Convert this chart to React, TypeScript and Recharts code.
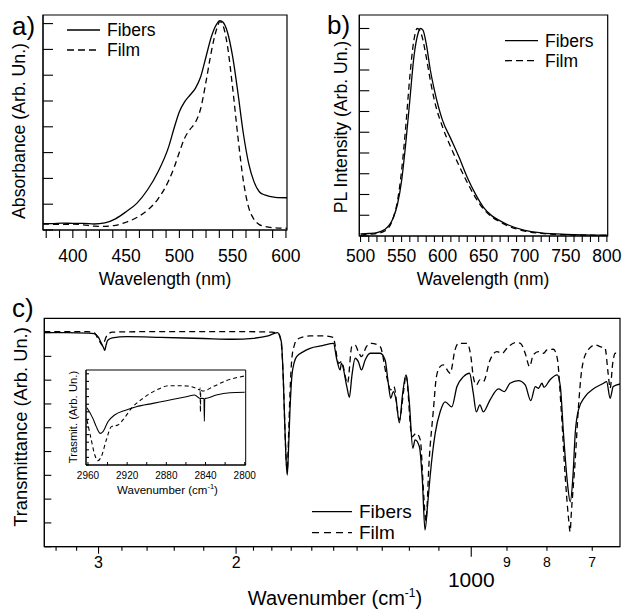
import React from 'react';
import { LineChart, Line, XAxis, YAxis, ReferenceArea } from 'recharts';

const FONT = '"Liberation Sans", Arial, Helvetica, sans-serif';

// a) absorbance
const absWl = [372, 380, 390, 400, 410, 420, 430, 440, 450, 460, 470, 480, 490, 495, 500, 505, 510, 515, 520, 525, 530, 535, 538, 541, 545, 550, 555, 560, 565, 570, 575, 580, 590, 601];
const absFibers = [0.030, 0.030, 0.032, 0.031, 0.031, 0.028, 0.033, 0.052, 0.085, 0.124, 0.186, 0.271, 0.388, 0.473, 0.550, 0.597, 0.628, 0.659, 0.713, 0.806, 0.899, 0.958, 0.974, 0.966, 0.922, 0.806, 0.636, 0.450, 0.310, 0.225, 0.178, 0.163, 0.152, 0.150];
const absFilm = [0.028, 0.027, 0.026, 0.027, 0.024, 0.018, 0.017, 0.022, 0.036, 0.058, 0.092, 0.145, 0.230, 0.290, 0.362, 0.428, 0.468, 0.500, 0.565, 0.690, 0.830, 0.935, 0.969, 0.950, 0.860, 0.660, 0.430, 0.230, 0.105, 0.050, 0.025, 0.017, 0.010, 0.008];
const absXTicks = [375, 387.5, 400, 412.5, 425, 437.5, 450, 462.5, 475, 487.5, 500, 512.5, 525, 537.5, 550, 562.5, 575, 587.5, 600];
const absYTicks = [0, 0.12, 0.24, 0.36, 0.48, 0.6, 0.72, 0.84, 0.96];

// b) photoluminescence
const plFibersWl = [500, 510, 520, 530, 540, 545, 550, 555, 560, 565, 570, 573, 576, 580, 585, 590, 600, 610, 620, 630, 640, 650, 660, 670, 680, 700, 720, 750, 801];
const plFibers = [0.010, 0.012, 0.016, 0.032, 0.089, 0.153, 0.266, 0.444, 0.653, 0.863, 0.976, 1.0, 0.992, 0.927, 0.800, 0.702, 0.556, 0.468, 0.379, 0.282, 0.202, 0.137, 0.097, 0.073, 0.053, 0.027, 0.015, 0.008, 0.004];
const plFilmWl = [500, 510, 520, 530, 540, 545, 550, 555, 560, 565, 569, 572, 575, 580, 585, 590, 600, 610, 620, 630, 640, 650, 660, 670, 680, 700, 720, 750, 801];
const plFilm = [0.004, 0.008, 0.012, 0.025, 0.089, 0.169, 0.315, 0.524, 0.766, 0.944, 1.0, 0.992, 0.960, 0.863, 0.750, 0.653, 0.524, 0.427, 0.339, 0.258, 0.185, 0.129, 0.092, 0.068, 0.048, 0.024, 0.013, 0.006, 0.003];
const plXTicks = [500, 510, 520, 530, 540, 550, 560, 570, 580, 590, 600, 610, 620, 630, 640, 650, 660, 670, 680, 690, 700, 710, 720, 730, 740, 750, 760, 770, 780, 790, 800];
const plYTicks = [0, 0.1, 0.2, 0.3, 0.4, 0.5, 0.6, 0.7, 0.8, 0.9, 1.0];

// c) FTIR transmittance
const irFibersWn = [3520, 3300, 3100, 3040, 3000, 2975, 2955, 2945, 2935, 2920, 2880, 2760, 2500, 2200, 2020, 1900, 1820, 1770, 1750, 1740, 1732, 1725, 1720, 1714, 1706, 1697, 1685, 1673, 1640, 1608, 1550, 1501, 1486, 1472, 1466, 1443, 1432, 1422, 1408, 1395, 1382, 1367, 1347, 1308, 1289, 1277, 1268, 1258, 1248, 1236, 1224, 1212, 1200, 1188, 1180, 1165, 1155, 1146, 1137, 1129, 1112, 1096, 1080, 1059, 1043, 1023, 1005, 994, 985, 975, 965, 946, 923, 907, 892, 870, 853, 839, 828, 820, 812, 807, 793, 776, 769, 762, 753, 747, 741, 736, 729, 715, 698, 677, 671, 664, 658, 645];
const irFibersT = [90.0, 90.0, 89.8, 89.6, 88.0, 85.5, 83.5, 82.5, 84.5, 86.8, 87.8, 88.3, 88.0, 87.5, 87.2, 87.6, 88.6, 90.0, 86.0, 70.0, 50.0, 35.0, 30.1, 40.0, 58.0, 71.5, 77.5, 79.9, 82.0, 83.4, 84.5, 85.5, 78.5, 74.3, 77.1, 67.3, 62.8, 71.5, 79.2, 77.8, 74.3, 78.5, 81.3, 81.3, 78.5, 68.7, 62.4, 65.2, 61.7, 52.1, 64.5, 72.2, 60.3, 41.4, 44.9, 42.0, 28.0, 7.0, 18.0, 29.4, 47.7, 56.7, 60.9, 58.8, 67.3, 71.5, 72.9, 64.5, 56.7, 59.6, 56.7, 61.7, 66.3, 65.2, 68.7, 69.8, 68.0, 61.4, 67.3, 66.6, 68.7, 67.0, 70.1, 72.2, 67.3, 47.7, 26.6, 18.9, 29.4, 47.7, 57.5, 63.1, 66.3, 68.7, 69.4, 62.4, 67.3, 68.4];
const irFilmWn = [3520, 3100, 3040, 3000, 2980, 2965, 2950, 2935, 2910, 2880, 2500, 2000, 1800, 1765, 1750, 1740, 1732, 1725, 1720, 1714, 1706, 1697, 1685, 1673, 1640, 1608, 1550, 1501, 1495, 1479, 1466, 1440, 1422, 1408, 1395, 1382, 1362, 1342, 1308, 1283, 1268, 1256, 1236, 1220, 1212, 1191, 1176, 1162, 1150, 1143, 1132, 1118, 1108, 1096, 1086, 1064, 1049, 1038, 1013, 1001, 994, 985, 975, 965, 946, 927, 913, 900, 878, 865, 853, 842, 833, 820, 808, 800, 785, 776, 767, 758, 751, 747, 745, 736, 729, 722, 711, 694, 684, 674, 668, 664, 659, 654, 645];
const irFilmT = [90.4, 90.4, 90.0, 87.0, 85.5, 84.5, 86.0, 88.0, 89.6, 90.2, 90.4, 90.4, 90.2, 89.5, 85.0, 70.0, 50.0, 36.0, 32.0, 45.0, 65.0, 79.0, 84.5, 86.9, 88.2, 88.6, 88.6, 88.0, 85.5, 77.1, 77.8, 68.7, 84.1, 84.8, 82.0, 79.9, 84.1, 85.5, 84.1, 71.5, 65.9, 67.3, 53.3, 65.9, 72.2, 46.2, 47.7, 44.9, 21.0, 11.0, 36.4, 57.5, 71.5, 75.7, 76.4, 72.9, 82.7, 85.5, 85.5, 79.9, 71.5, 68.0, 70.1, 69.4, 78.5, 82.0, 81.3, 83.4, 85.8, 85.5, 81.3, 75.7, 80.6, 82.0, 81.3, 82.7, 83.0, 79.2, 57.5, 29.4, 12.6, 6.3, 12.6, 36.4, 58.8, 74.3, 82.0, 84.8, 84.1, 83.4, 72.9, 66.6, 77.1, 81.3, 80.6];
const irXTicks = [3400, 3200, 3000, 2800, 2600, 2400, 2200, 2000, 1900, 1800, 1700, 1600, 1500, 1400, 1300, 1200, 1100, 1000, 900, 800, 700];
const irTickLabels: Record<number, string> = { 3000: '3', 2000: '2', 1000: '1000', 900: '9', 800: '8', 700: '7' };
const irYTicks = [0, 10, 20, 30, 40, 50, 60, 70, 80, 90];

// c) inset, C-H stretching region
const insetFibersWn = [2961, 2955, 2951.5, 2947.4, 2944.7, 2939.6, 2932.8, 2920.9, 2910.6, 2893.6, 2880, 2859.6, 2851, 2846, 2841.6, 2841.2, 2840.8, 2839, 2829, 2815, 2800];
const insetFibersT = [6.03, 4.91, 4.04, 3.33, 3.51, 4.56, 5.26, 5.79, 6.14, 6.49, 6.77, 7.19, 7.37, 7.02, 7.0, 4.6, 7.0, 7.02, 7.37, 7.61, 7.65];
const insetFilmWn = [2961, 2956.6, 2953, 2949.8, 2946.4, 2941.3, 2936, 2929.4, 2924.3, 2915.7, 2903.8, 2890.2, 2876.6, 2859.6, 2849.4, 2845.8, 2845.5, 2845.2, 2844.9, 2842.6, 2832.3, 2818.7, 2800];
const insetFilmT = [4.74, 2.63, 1.05, 0.46, 0.88, 2.63, 4.04, 4.21, 4.74, 5.96, 7.02, 7.89, 8.35, 8.32, 8.07, 7.9, 8.1, 5.6, 7.85, 7.79, 8.25, 8.88, 9.37];
const insetXTicks = [2960, 2940, 2920, 2900, 2880, 2860, 2840, 2820, 2800];
const insetYTicks = [0, 0.8, 1.6, 2.4, 3.2, 4.0, 4.8, 5.6, 6.4, 7.2, 8.0, 8.8, 9.6];

const toPts = (xs: number[], ys: number[]) => xs.map((x, i) => ({ x, y: ys[i] }));

const INK = '#000';

// inward tick on a left y axis
const yInTick = (len: number) => (p: any) => (
  <line x1={p.x} x2={p.x + len} y1={p.y} y2={p.y} stroke={INK} strokeWidth={1.1} />
);

// wavelength ticks: short tick every step, label every 50 nm
const wlTick = (len: number, labelDy: number) => (p: any) => {
  const v = p.payload.value;
  return (
    <g>
      <line x1={p.x} x2={p.x} y1={p.y} y2={p.y + len} stroke={INK} strokeWidth={1.1} />
      {v % 50 === 0 && (
        <text x={p.x} y={p.y + labelDy} textAnchor="middle" fontSize={17.5} fontFamily={FONT} fill={INK}>{v}</text>
      )}
    </g>
  );
};

const irTick = (p: any) => {
  const v = p.payload.value;
  const label = irTickLabels[v];
  const len = v === 1000 ? 10 : v === 2000 || v === 3000 ? 7 : 4;
  let text = null;
  if (label) {
    if (v === 1000) {
      text = <text x={p.x} y={p.y + 40} textAnchor="middle" fontSize={21} fontFamily={FONT} fill={INK}>{label}</text>;
    } else if (v >= 2000) {
      text = <text x={p.x} y={p.y + 21.5} textAnchor="middle" fontSize={16} fontFamily={FONT} fill={INK}>{label}</text>;
    } else {
      text = <text x={p.x} y={p.y + 20} textAnchor="middle" fontSize={14} fontFamily={FONT} fill={INK}>{label}</text>;
    }
  }
  return (
    <g>
      <line x1={p.x} x2={p.x} y1={p.y} y2={p.y + len} stroke={INK} strokeWidth={1.1} />
      {text}
    </g>
  );
};

const insetTick = (p: any) => {
  const v = p.payload.value;
  return (
    <g>
      <line x1={p.x} x2={p.x} y1={p.y} y2={p.y - 3} stroke={INK} strokeWidth={1} />
      {v % 40 === 0 && (
        <text x={p.x} y={p.y + 14.3} textAnchor="middle" fontSize={10} fontFamily={FONT} fill={INK}>{v}</text>
      )}
    </g>
  );
};

const LegendRows = ({ x, y, gap, len, fs, dash }: any) => (
  <g fontFamily={FONT} fontSize={fs} fill={INK}>
    <line x1={x} x2={x + len} y1={y} y2={y} stroke={INK} strokeWidth={1.3} />
    <text x={x + len + 7} y={y + fs * 0.34}>Fibers</text>
    <line x1={x} x2={x + len} y1={y + gap} y2={y + gap} stroke={INK} strokeWidth={1.3} strokeDasharray={dash} />
    <text x={x + len + 7} y={y + gap + fs * 0.34}>Film</text>
  </g>
);

export default function App() {
  const solid = { stroke: INK, strokeWidth: 1.3, dot: false, isAnimationActive: false, dataKey: 'y' };
  const dashed = { ...solid, strokeDasharray: '6 4' };

  return (
    <div style={{ position: 'absolute', left: 0, top: 0, width: 623, height: 610, background: '#fff', fontFamily: FONT }}>
      {/* a) absorbance */}
      <div style={{ position: 'absolute', left: 0, top: 0 }}>
        <LineChart width={305} height={290} margin={{ top: 15, right: 18, bottom: 0, left: 0 }}>
          <XAxis dataKey="x" type="number" domain={[372, 601]} ticks={absXTicks} interval={0} allowDataOverflow
            height={60} stroke={INK} tickSize={0} tickMargin={0} tickLine={false} tick={wlTick(8, 32)} />
          <YAxis type="number" domain={[0, 1]} ticks={absYTicks} interval={0} allowDataOverflow
            width={43} stroke={INK} tickSize={0} tickMargin={0} tickLine={false} tick={yInTick(10)} />
          <ReferenceArea x1={372} x2={601} y1={0} y2={1} fill="none" stroke={INK} strokeWidth={1.2} ifOverflow="visible" />
          <Line {...solid} type="monotone" data={toPts(absWl, absFibers)} />
          <Line {...dashed} type="monotone" data={toPts(absWl, absFilm)} />
        </LineChart>
      </div>

      {/* b) PL */}
      <div style={{ position: 'absolute', left: 310, top: 0 }}>
        <LineChart width={313} height={290} margin={{ top: 15, right: 15.3, bottom: 0, left: 0 }}>
          <XAxis dataKey="x" type="number" domain={[498.5, 801]} ticks={plXTicks} interval={0} allowDataOverflow
            height={54} stroke={INK} tickSize={0} tickMargin={0} tickLine={false} tick={wlTick(6, 26)} />
          <YAxis type="number" domain={[0, 1.065]} ticks={plYTicks} interval={0} allowDataOverflow
            width={49.3} stroke={INK} tickSize={0} tickMargin={0} tickLine={false} tick={yInTick(10)} />
          <ReferenceArea x1={498.5} x2={801} y1={0} y2={1.065} fill="none" stroke={INK} strokeWidth={1.2} ifOverflow="visible" />
          <Line {...solid} type="monotone" data={toPts(plFibersWl, plFibers)} />
          <Line {...dashed} type="monotone" data={toPts(plFilmWl, plFilm)} />
        </LineChart>
      </div>

      {/* c) FTIR */}
      <div style={{ position: 'absolute', left: 0, top: 290 }}>
        <LineChart width={623} height={320} margin={{ top: 28.3, right: 3, bottom: 0, left: 0 }}>
          <XAxis dataKey="x" type="number" scale="log" domain={[645, 3520]} reversed ticks={irXTicks} interval={0} allowDataOverflow
            height={63.3} stroke={INK} tickSize={0} tickMargin={0} tickLine={false} tick={irTick} />
          <YAxis type="number" domain={[0, 96]} ticks={irYTicks} interval={0} allowDataOverflow
            width={44.3} stroke={INK} tickSize={0} tickMargin={0} tickLine={false} tick={yInTick(7)} />
          <ReferenceArea x1={645} x2={3520} y1={0} y2={96} fill="none" stroke={INK} strokeWidth={1.2} ifOverflow="visible" />
          <Line {...solid} type="monotone" data={toPts(irFibersWn, irFibersT)} />
          <Line {...dashed} type="monotone" data={toPts(irFilmWn, irFilmT)} />
        </LineChart>
      </div>

      {/* c) inset */}
      <div style={{ position: 'absolute', left: 60, top: 365 }}>
        <LineChart width={202} height={135} margin={{ top: 5, right: 16.3, bottom: 0, left: 0 }}>
          <XAxis dataKey="x" type="number" domain={[2799, 2962]} reversed ticks={insetXTicks} interval={0} allowDataOverflow
            height={35} stroke={INK} tickSize={0} tickMargin={0} tickLine={false} tick={insetTick} />
          <YAxis type="number" domain={[0, 10]} ticks={insetYTicks} interval={0} allowDataOverflow
            width={26} stroke={INK} tickSize={0} tickMargin={0} tickLine={false} tick={yInTick(3)} />
          <ReferenceArea x1={2799} x2={2962} y1={0} y2={10} fill="none" stroke={INK} strokeWidth={1} ifOverflow="visible" />
          <Line {...solid} strokeWidth={1.1} type="monotone" data={toPts(insetFibersWn, insetFibersT)} />
          <Line {...dashed} strokeWidth={1.1} strokeDasharray="4 3" type="monotone" data={toPts(insetFilmWn, insetFilmT)} />
        </LineChart>
      </div>

      {/* titles, panel letters and legends */}
      <svg width={623} height={610} style={{ position: 'absolute', left: 0, top: 0, pointerEvents: 'none' }}>
        <g fontFamily={FONT} fill={INK}>
          <text x={12} y={35} fontSize={26}>a)</text>
          <text x={327} y={34} fontSize={26}>b)</text>
          <text x={12} y={317} fontSize={26}>c)</text>

          <text x={19} y={131} fontSize={17.7} textAnchor="middle" dy="0.35em" transform="rotate(-90 19 131)">Absorbance (Arb. Un.)</text>
          <text x={341} y={127} fontSize={17.6} textAnchor="middle" dy="0.35em" transform="rotate(-90 341 127)">PL Intensity (Arb. Un.)</text>
          <text x={21} y={427} fontSize={18.3} textAnchor="middle" dy="0.35em" transform="rotate(-90 21 427)">Transmittance (Arb. Un.)</text>

          <text x={165} y={284.5} fontSize={17.5} textAnchor="middle">Wavelength (nm)</text>
          <text x={483} y={284.5} fontSize={17.5} textAnchor="middle">Wavelength (nm)</text>
          <text x={335} y={605} fontSize={20} textAnchor="middle">
            Wavenumber (cm<tspan dy={-8} fontSize={12}>-1</tspan><tspan dy={8}>)</tspan>
          </text>

          <text x={167.5} y={494} fontSize={11.5} textAnchor="middle">
            Wavenumber (cm<tspan dy={-5} fontSize={7.5}>-1</tspan><tspan dy={5}>)</tspan>
          </text>
          <text x={73} y={417} fontSize={11.3} textAnchor="middle" dy="0.35em" transform="rotate(-90 73 417)">Trasmit. (Arb. Un.)</text>
        </g>
        <LegendRows x={67} y={30} gap={20} len={33} fs={17.5} dash="7 4" />
        <LegendRows x={505} y={40.7} gap={20} len={33} fs={17.5} dash="7 4" />
        <LegendRows x={312} y={511.7} gap={21} len={40} fs={19} dash="7 5" />
      </svg>
    </div>
  );
}
